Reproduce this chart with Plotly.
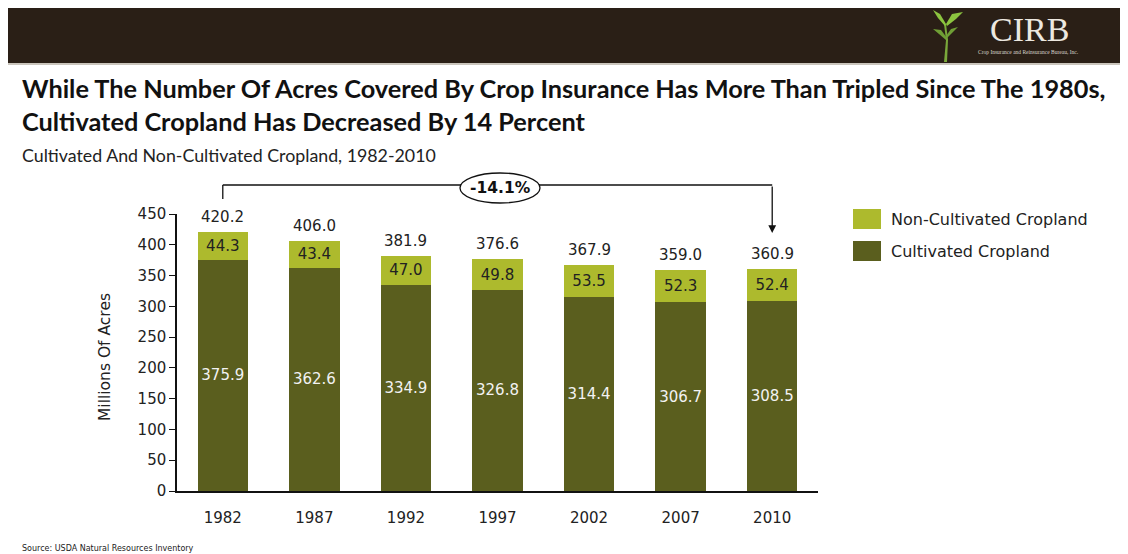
import plotly.graph_objects as go

years = ["1982", "1987", "1992", "1997", "2002", "2007", "2010"]
cultivated = [375.9, 362.6, 334.9, 326.8, 314.4, 306.7, 308.5]
non_cultivated = [44.3, 43.4, 47.0, 49.8, 53.5, 52.3, 52.4]
totals = [420.2, 406.0, 381.9, 376.6, 367.9, 359.0, 360.9]
change_label = "-14.1%"

DARK = "#5a5e1e"
LIGHT = "#adba2d"
HEADER = "#2a1f16"
TXT = "#222222"

# page body has an 8px margin; work in reference pixel coordinates
O = 8
W, H = 1128 - O, 554 - O
PL, PR, PT, PB = 177, 818, 214, 491  # plot area in reference pixels
ML, MR, MT, MB = PL - O, (O + W) - PR, PT - O, (O + H) - PB
PW = PR - PL
PH = PB - PT


def px(x):
    return (x - PL) / PW


def py(y):
    return (PB - y) / PH


fig = go.Figure()
fig.add_trace(go.Bar(
    x=years, y=cultivated, name="Cultivated Cropland",
    marker=dict(color=DARK, line=dict(width=0)),
    text=[f"{v:.1f}" for v in cultivated], textposition="inside",
    insidetextanchor="middle", textangle=0,
    textfont=dict(family="DejaVu Sans", size=15, color="#f2f2f2"),
    showlegend=False,
))
fig.add_trace(go.Bar(
    x=years, y=non_cultivated, name="Non-Cultivated Cropland",
    marker=dict(color=LIGHT, line=dict(width=0)),
    text=[f"{v:.1f}" for v in non_cultivated], textposition="inside",
    insidetextanchor="middle", textangle=0,
    textfont=dict(family="DejaVu Sans", size=15, color=TXT),
    showlegend=False,
))

shapes = []
annotations = []

# total labels above bars (category index positions)
for i, tot in enumerate(totals):
    annotations.append(dict(xref="x", yref="y", x=i, y=tot, text=f"{tot:.1f}",
                            showarrow=False, xanchor="center", yanchor="bottom", yshift=4,
                            font=dict(family="DejaVu Sans", size=15, color=TXT)))

# header band
shapes.append(dict(type="rect", xref="paper", yref="paper",
                   x0=px(6), x1=px(1122), y0=py(63), y1=py(6),
                   fillcolor=HEADER, line=dict(width=0), layer="above"))
shapes.append(dict(type="line", xref="paper", yref="paper",
                   x0=px(6), x1=px(1122), y0=py(64), y1=py(64),
                   line=dict(color="#b8b2a6", width=1.5)))


def pathp(pts):
    return "M " + " L ".join(f"{px(a):.5f},{py(b):.5f}" for a, b in pts) + " Z"


# sprout logo
shapes.append(dict(type="path", xref="paper", yref="paper",
                   path=pathp([(944, 62), (946, 40), (944, 24), (946, 24), (948, 40), (947, 62)]),
                   fillcolor="#7aa83a", line=dict(width=0)))
shapes.append(dict(type="path", xref="paper", yref="paper",
                   path=pathp([(945, 26), (938, 18), (933, 10), (940, 14), (946, 24)]),
                   fillcolor="#8cc43f", line=dict(width=0)))
shapes.append(dict(type="path", xref="paper", yref="paper",
                   path=pathp([(946, 24), (952, 14), (963, 12), (956, 19), (947, 26)]),
                   fillcolor="#8cc43f", line=dict(width=0)))
shapes.append(dict(type="path", xref="paper", yref="paper",
                   path=pathp([(946, 40), (939, 34), (933, 29), (941, 30), (947, 38)]),
                   fillcolor="#6f9e35", line=dict(width=0)))
shapes.append(dict(type="path", xref="paper", yref="paper",
                   path=pathp([(946, 36), (951, 29), (958, 27), (953, 32), (947, 38)]),
                   fillcolor="#6f9e35", line=dict(width=0)))

annotations.append(dict(xref="paper", yref="paper", x=px(1029), y=py(29),
                        text="CIRB", showarrow=False, xanchor="center", yanchor="middle",
                        font=dict(family="Liberation Serif", size=34, color="#ece8e0")))
annotations.append(dict(xref="paper", yref="paper", x=px(1028), y=py(52),
                        text="Crop Insurance and Reinsurance Bureau, Inc.", showarrow=False,
                        xanchor="center", yanchor="middle",
                        font=dict(family="Liberation Serif", size=5.5, color="#d8d4cc")))

# titles
annotations.append(dict(xref="paper", yref="paper", x=px(20), y=py(88),
                        text="<b>While The Number Of Acres Covered By Crop Insurance Has More Than Tripled Since The 1980s,</b>",
                        showarrow=False, xanchor="left", yanchor="middle",
                        font=dict(family="Lato", size=25.3, color="#111111")))
annotations.append(dict(xref="paper", yref="paper", x=px(20), y=py(121),
                        text="<b>Cultivated Cropland Has Decreased By 14 Percent</b>",
                        showarrow=False, xanchor="left", yanchor="middle",
                        font=dict(family="Lato", size=25.3, color="#111111")))
annotations.append(dict(xref="paper", yref="paper", x=px(20), y=py(155),
                        text="Cultivated And Non-Cultivated Cropland, 1982-2010",
                        showarrow=False, xanchor="left", yanchor="middle",
                        font=dict(family="Lato", size=17.8, color="#222222")))
annotations.append(dict(xref="paper", yref="paper", x=px(20), y=py(548),
                        text="Source: USDA Natural Resources Inventory",
                        showarrow=False, xanchor="left", yanchor="middle",
                        font=dict(family="DejaVu Sans", size=8, color="#222222")))
annotations.append(dict(xref="paper", yref="paper", x=px(105), y=py(357),
                        text="Millions Of Acres", textangle=-90,
                        showarrow=False, xanchor="center", yanchor="middle",
                        font=dict(family="DejaVu Sans", size=15.5, color=TXT)))

# bracket with change label
shapes.append(dict(type="line", xref="x", yref="paper", x0=0, x1=0,
                   y0=py(199), y1=py(185), line=dict(color="#111111", width=1.3)))
shapes.append(dict(type="line", xref="x", yref="paper", x0=0, x1=6,
                   y0=py(185), y1=py(185), line=dict(color="#111111", width=1.3)))
shapes.append(dict(type="circle", xref="paper", yref="paper",
                   x0=px(460), x1=px(540), y0=py(203), y1=py(173),
                   fillcolor="white", line=dict(color="#111111", width=1.3)))
annotations.append(dict(xref="paper", yref="paper", x=px(500), y=py(188),
                        text="<b>" + change_label + "</b>", showarrow=False,
                        xanchor="center", yanchor="middle",
                        font=dict(family="DejaVu Sans", size=15.5, color="#111111")))
annotations.append(dict(xref="x", yref="paper", x=6, y=py(233),
                        ax=0, ay=-(233 - 185), text="", showarrow=True,
                        arrowhead=2, arrowsize=1.2, arrowwidth=1.3, arrowcolor="#111111"))

# legend
for (label, color, y0, y1) in [("Non-Cultivated Cropland", LIGHT, 209, 229),
                               ("Cultivated Cropland", DARK, 241, 261)]:
    shapes.append(dict(type="rect", xref="paper", yref="paper",
                       x0=px(853), x1=px(881), y0=py(y1), y1=py(y0),
                       fillcolor=color, line=dict(width=0)))
    annotations.append(dict(xref="paper", yref="paper", x=px(889), y=py((y0 + y1) / 2),
                            text=label, showarrow=False, xanchor="left", yanchor="middle",
                            font=dict(family="DejaVu Sans", size=16, color=TXT)))

fig.update_layout(
    width=W, height=H,
    margin=dict(l=ML, r=MR, t=MT, b=MB, autoexpand=False),
    paper_bgcolor="white", plot_bgcolor="white",
    barmode="stack", bargap=0.45,
    shapes=shapes, annotations=annotations,
    showlegend=False,
    font=dict(family="DejaVu Sans", color=TXT),
)
fig.update_xaxes(type="category", range=[-0.5, len(years) - 0.5], autorange=False,
                 showline=True, linecolor="#111111", linewidth=1.5,
                 ticks="", showgrid=False, ticklabelstandoff=12,
                 tickfont=dict(family="DejaVu Sans", size=15, color=TXT))
fig.update_yaxes(range=[0, 450], autorange=False, dtick=50, showline=True,
                 linecolor="#111111", linewidth=1.5,
                 ticks="outside", ticklen=6, tickcolor="#111111", showgrid=False,
                 zeroline=False,
                 tickfont=dict(family="DejaVu Sans", size=15, color=TXT))

fig.write_html("out.html")
